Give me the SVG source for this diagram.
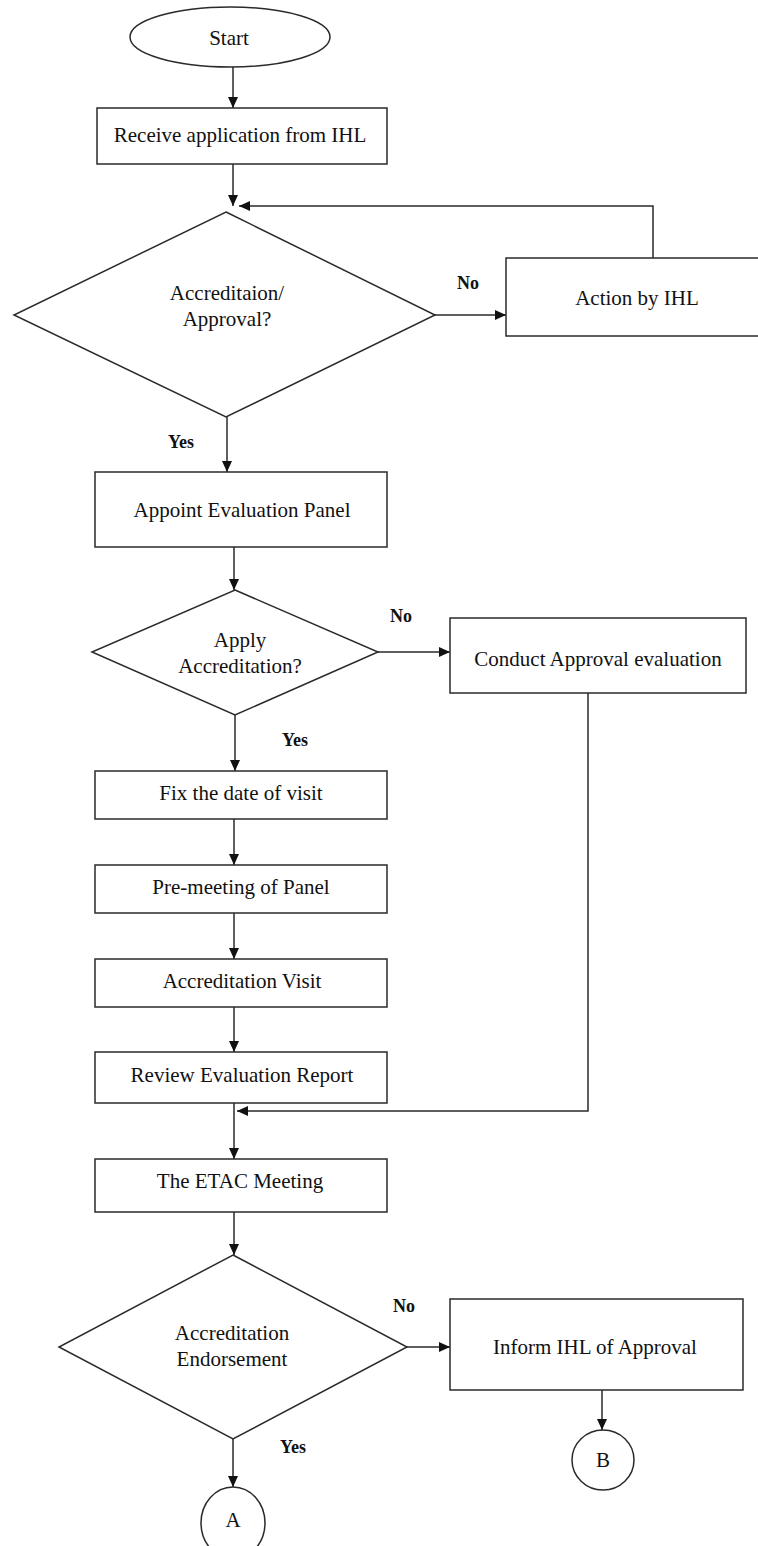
<svg xmlns="http://www.w3.org/2000/svg" width="758" height="1546" viewBox="0 0 758 1546">
<style>
.s{fill:#fff;stroke:#2a2a2a;stroke-width:1.5}
.t{font-family:"Liberation Serif","Times New Roman",serif;font-size:21px;fill:#111;text-anchor:middle}
.l{font-family:"Liberation Serif","Times New Roman",serif;font-size:18px;font-weight:bold;fill:#111;text-anchor:middle}
.c{fill:none;stroke:#2a2a2a;stroke-width:1.5}
</style>
<defs>
<marker id="ah" markerUnits="userSpaceOnUse" markerWidth="12" markerHeight="10" refX="11" refY="5" orient="auto">
<path d="M0,0 L11,5 L0,10 Z" fill="#111"/>
</marker>
</defs>
<rect width="758" height="1546" fill="#fff"/>
<g id="connectors">
<line class="c" x1="233" y1="67" x2="233" y2="108" marker-end="url(#ah)"/>
<line class="c" x1="233" y1="164" x2="233" y2="206" marker-end="url(#ah)"/>
<polyline class="c" points="653,258 653,206 239,206" marker-end="url(#ah)"/>
<line class="c" x1="435" y1="315" x2="506" y2="315" marker-end="url(#ah)"/>
<line class="c" x1="227" y1="417" x2="227" y2="472" marker-end="url(#ah)"/>
<line class="c" x1="234" y1="547" x2="234" y2="590" marker-end="url(#ah)"/>
<line class="c" x1="378" y1="652" x2="450" y2="652" marker-end="url(#ah)"/>
<line class="c" x1="235" y1="715" x2="235" y2="771" marker-end="url(#ah)"/>
<line class="c" x1="234" y1="819" x2="234" y2="865" marker-end="url(#ah)"/>
<line class="c" x1="234" y1="913" x2="234" y2="959" marker-end="url(#ah)"/>
<line class="c" x1="234" y1="1007" x2="234" y2="1052" marker-end="url(#ah)"/>
<polyline class="c" points="588,693 588,1111 237,1111" marker-end="url(#ah)"/>
<line class="c" x1="234" y1="1103" x2="234" y2="1159" marker-end="url(#ah)"/>
<line class="c" x1="234" y1="1212" x2="234" y2="1255" marker-end="url(#ah)"/>
<line class="c" x1="407" y1="1347" x2="450" y2="1347" marker-end="url(#ah)"/>
<line class="c" x1="233" y1="1439" x2="233" y2="1487" marker-end="url(#ah)"/>
<line class="c" x1="602" y1="1390" x2="602" y2="1430" marker-end="url(#ah)"/>
<text class="l" x="468" y="289">No</text>
<text class="l" x="181" y="448">Yes</text>
<text class="l" x="401" y="622">No</text>
<text class="l" x="295" y="746">Yes</text>
<text class="l" x="404" y="1312">No</text>
<text class="l" x="293" y="1453">Yes</text>
</g>
<g id="start">
<ellipse class="s" cx="230" cy="37" rx="100" ry="30"/>
<text class="t" x="229" y="45">Start</text>
</g>
<g id="receive">
<rect class="s" x="97" y="108" width="290" height="56"/>
<text class="t" x="240" y="142">Receive application from IHL</text>
</g>
<g id="decision1">
<polygon class="s" points="226,212 435,315 226,417 14,315"/>
<text class="t" x="227" y="300">Accreditaion/</text>
<text class="t" x="227" y="326">Approval?</text>
</g>
<g id="action">
<rect class="s" x="506" y="258" width="262" height="78"/>
<text class="t" x="637" y="305">Action by IHL</text>
</g>
<g id="appoint">
<rect class="s" x="95" y="472" width="292" height="75"/>
<text class="t" x="242" y="517">Appoint Evaluation Panel</text>
</g>
<g id="decision2">
<polygon class="s" points="235,590 378,652 235,715 92,652"/>
<text class="t" x="240" y="647">Apply</text>
<text class="t" x="240" y="673">Accreditation?</text>
</g>
<g id="conduct">
<rect class="s" x="450" y="618" width="296" height="75"/>
<text class="t" x="598" y="666">Conduct Approval evaluation</text>
</g>
<g id="fix">
<rect class="s" x="95" y="771" width="292" height="48"/>
<text class="t" x="241" y="800">Fix the date of visit</text>
</g>
<g id="premeeting">
<rect class="s" x="95" y="865" width="292" height="48"/>
<text class="t" x="241" y="894">Pre-meeting of Panel</text>
</g>
<g id="visit">
<rect class="s" x="95" y="959" width="292" height="48"/>
<text class="t" x="242" y="988">Accreditation Visit</text>
</g>
<g id="review">
<rect class="s" x="95" y="1052" width="292" height="51"/>
<text class="t" x="242" y="1082">Review Evaluation Report</text>
</g>
<g id="etac">
<rect class="s" x="95" y="1159" width="292" height="53"/>
<text class="t" x="240" y="1188">The ETAC Meeting</text>
</g>
<g id="decision3">
<polygon class="s" points="233,1255 407,1347 233,1439 59,1347"/>
<text class="t" x="232" y="1340">Accreditation</text>
<text class="t" x="232" y="1366">Endorsement</text>
</g>
<g id="inform">
<rect class="s" x="450" y="1299" width="293" height="91"/>
<text class="t" x="595" y="1354">Inform IHL of Approval</text>
</g>
<g id="connectorA">
<ellipse class="s" cx="233" cy="1523" rx="32" ry="36"/>
<text class="t" x="233" y="1527">A</text>
</g>
<g id="connectorB">
<ellipse class="s" cx="603" cy="1460" rx="31" ry="30"/>
<text class="t" x="603" y="1467">B</text>
</g>
</svg>
